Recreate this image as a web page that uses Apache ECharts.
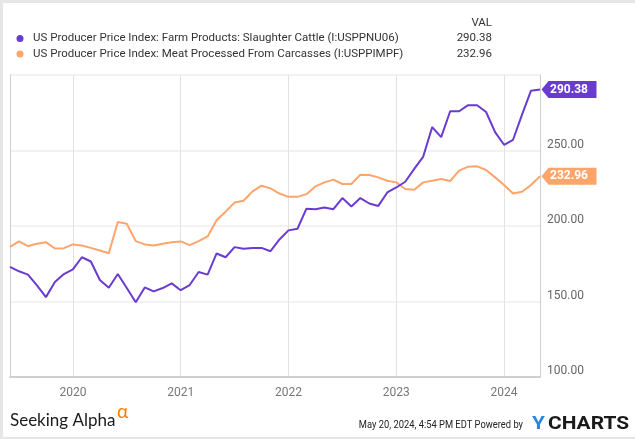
<!DOCTYPE html>
<html>
<head>
<meta charset="utf-8">
<script src="https://cdn.jsdelivr.net/npm/echarts@6/dist/echarts.min.js"></script>
<style>
html,body{margin:0;padding:0;background:#fff;}
#c{width:635px;height:439px;}
</style>
</head>
<body>
<div id="c"></div>
<script>
const months = [
  '2019-06','2019-07','2019-08','2019-09','2019-10','2019-11','2019-12',
  '2020-01','2020-02','2020-03','2020-04','2020-05','2020-06','2020-07','2020-08','2020-09','2020-10','2020-11','2020-12',
  '2021-01','2021-02','2021-03','2021-04','2021-05','2021-06','2021-07','2021-08','2021-09','2021-10','2021-11','2021-12',
  '2022-01','2022-02','2022-03','2022-04','2022-05','2022-06','2022-07','2022-08','2022-09','2022-10','2022-11','2022-12',
  '2023-01','2023-02','2023-03','2023-04','2023-05','2023-06','2023-07','2023-08','2023-09','2023-10','2023-11','2023-12',
  '2024-01','2024-02','2024-03','2024-04','2024-05'
];
const cattle = [172.9,170,167.8,160.7,152.9,162.9,168.2,171.3,179.3,176.5,164.2,159.1,168.2,
  158.9,149.5,159.3,156.7,158.9,162,157.5,160.9,169.5,167.8,181.8,
  179.3,186,184.9,185.5,185.5,183.3,191.1,197.1,198.2,211.5,211.1,212.2,
  211.1,218.5,212.9,218.5,214.9,213.3,222.2,225.5,229.3,237.8,246,265.5,258.9,276,276,280,280,275.5,262.2,253.8,257.1,273.8,289.6,290.38];
const meat = [186.2,189.8,186.7,188.2,189.3,185.1,185.3,187.8,187.1,185.5,183.8,182,202.7,
  201.5,190,187.8,187.1,188.2,189.3,189.8,187.3,190,193.1,203.8,
  209.5,215.5,216.7,222.9,226.7,224.9,221.5,219.3,219.3,221.1,226.2,228.9,
  230.7,227.8,227.8,234,233.8,232.2,230,228.9,224.5,224,228.9,230,231.1,229.8,236.7,239.3,239.5,237.1,232.2,227.1,221.5,222.7,227.1,232.96];
const seriesNames = [
  'US Producer Price Index: Farm Products: Slaughter Cattle (I:USPPNU06)',
  'US Producer Price Index: Meat Processed From Carcasses (I:USPPIMPF)'
];
const colors = ['#6a3bd0', '#ffa46b'];
const yTicks = {min: 100, max: 300, interval: 50};

const FONT = 'Roboto';
const last = months.length - 1;

function tag(color, data) {
  return {
    symbol: 'path://M0,8.5L7,0L55,0L55,17L7,17Z',
    symbolSize: [55, 17],
    symbolOffset: [29, 0],
    symbolKeepAspect: false,
    silent: true,
    itemStyle: {color: color},
    label: {show: true, position: 'inside', color: '#fff', fontWeight: 'bold', fontSize: 12, fontFamily: FONT,
      formatter: p => p.value.toFixed(2)},
    data: [{coord: [months[last], data[last]], value: data[last]}]
  };
}

const chart = echarts.init(document.getElementById('c'), null, {renderer: 'canvas'});
const isJan = (i, v) => v.endsWith('-01');
chart.setOption({
  animation: false,
  backgroundColor: '#fff',
  textStyle: {fontFamily: FONT},
  grid: {left: 10, right: 95, top: 75, bottom: 62, containLabel: false, outerBoundsMode: 'none'},
  xAxis: {
    type: 'category', data: months, boundaryGap: false,
    axisLine: {lineStyle: {color: '#cfcfcf', width: 2}},
    axisTick: {show: false},
    axisLabel: {interval: isJan, formatter: v => v.slice(0, 4), color: '#777', fontSize: 12, fontFamily: FONT, margin: 10},
    splitLine: {show: true, interval: isJan, lineStyle: {color: '#e2e2e2', width: 1}}
  },
  yAxis: [{
    type: 'value', position: 'right', min: yTicks.min, max: yTicks.max, interval: yTicks.interval,
    axisLine: {show: true, lineStyle: {color: '#cfcfcf', width: 1}},
    axisTick: {show: false},
    axisLabel: {color: '#666', fontSize: 12, fontFamily: FONT, margin: 7, showMaxLabel: false,
      verticalAlign: 'bottom', lineHeight: 12, formatter: v => v.toFixed(2)},
    splitLine: {lineStyle: {color: '#eeeeee', width: 1.5}}
  }, {
    type: 'value', position: 'left', min: yTicks.min, max: yTicks.max, interval: yTicks.interval,
    axisLine: {show: true, lineStyle: {color: '#cfcfcf', width: 1}},
    axisTick: {show: false}, axisLabel: {show: false}, splitLine: {show: false}
  }],
  series: [{
    name: seriesNames[0], type: 'line', data: cattle, yAxisIndex: 0, showSymbol: false, z: 3,
    lineStyle: {color: colors[0], width: 2}, itemStyle: {color: colors[0]},
    markPoint: tag(colors[0], cattle)
  }, {
    name: seriesNames[1], type: 'line', data: meat, yAxisIndex: 0, showSymbol: false, z: 2,
    lineStyle: {color: colors[1], width: 2}, itemStyle: {color: colors[1]},
    markPoint: tag(colors[1], meat)
  }],
  graphic: [
    {type: 'rect', shape: {x: 0, y: 0, width: 635, height: 3}, style: {fill: '#e6e6e6'}, silent: true},
    {type: 'rect', shape: {x: 0, y: 0, width: 3, height: 439}, style: {fill: '#e6e6e6'}, silent: true},
    {type: 'rect', shape: {x: 0, y: 437, width: 635, height: 2}, style: {fill: '#e6e6e6'}, silent: true},
    {type: 'text', x: 492, y: 23, style: {text: 'VAL', fill: '#333', font: '11.5px Roboto', textAlign: 'right', textVerticalAlign: 'middle'}},
    {type: 'circle', shape: {cx: 20, cy: 38.5, r: 3.5}, style: {fill: colors[0]}},
    {type: 'text', x: 33, y: 38.5, style: {text: seriesNames[0], fill: '#333', font: '11.5px Roboto', textVerticalAlign: 'middle'}},
    {type: 'text', x: 492, y: 38.5, style: {text: cattle[last].toFixed(2), fill: '#333', font: '11.5px Roboto', textAlign: 'right', textVerticalAlign: 'middle'}},
    {type: 'circle', shape: {cx: 20, cy: 54, r: 3.5}, style: {fill: colors[1]}},
    {type: 'text', x: 33, y: 54, style: {text: seriesNames[1], fill: '#333', font: '11.5px Roboto', textVerticalAlign: 'middle'}},
    {type: 'text', x: 492, y: 54, style: {text: meat[last].toFixed(2), fill: '#333', font: '11.5px Roboto', textAlign: 'right', textVerticalAlign: 'middle'}},
    {type: 'text', x: 10, y: 421, style: {text: 'Seeking Alpha', fill: '#1a1a1a', font: '17px Lato', textVerticalAlign: 'middle'}},
    {type: 'text', x: 117, y: 412, style: {text: 'α', fill: '#ff7a00', font: '19px Lato', textVerticalAlign: 'middle'}},
    {type: 'text', x: 523, y: 425, scaleX: 0.85, style: {text: 'May 20, 2024, 4:54 PM EDT Powered by', fill: '#222', font: '11px Roboto', textAlign: 'right', textVerticalAlign: 'middle'}},
    {type: 'text', x: 532, y: 424, scaleX: 1.1, style: {text: 'Y', fill: '#2a86e4', font: 'bold 19px Roboto', textVerticalAlign: 'middle'}},
    {type: 'text', x: 548, y: 424, scaleX: 1.1, style: {text: 'CHARTS', fill: '#1a1a1a', font: 'bold 19px Roboto', textVerticalAlign: 'middle'}}
  ]
});
</script>
</body>
</html>
